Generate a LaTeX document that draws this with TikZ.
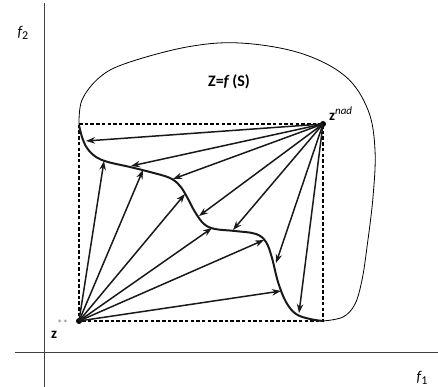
\documentclass[tikz,border=0pt]{standalone}
\usepackage{fontspec}
\setmainfont{Carlito}
\usetikzlibrary{arrows.meta}
\tikzset{
  axis/.style={line width=0.9pt, black!75},
  pareto/.style={line width=2pt, black!90},
  region/.style={line width=0.8pt, black},
  box/.style={line width=1.3pt, dash pattern=on 3.5pt off 2.2pt},
  vec/.style={line width=1.5pt, black!90, -{Stealth[length=9pt,width=6.5pt]}},
  pt/.style={circle, fill=black, inner sep=0pt, minimum size=6pt},
  lbl/.style={inner sep=0pt, font=\fontsize{15}{17}\selectfont}
}
\begin{document}
\begin{tikzpicture}[x=1pt,y=-1pt]
\useasboundingbox (0,0) rectangle (438,387);
% axes
\draw[axis] (44,3) -- (44,387);
\draw[axis] (15,352) -- (438,352);
\node[lbl] (f2) at (23,33) {\itshape f\raisebox{-0.35ex}{\upshape\fontsize{12}{14}\selectfont 2}};
\node[lbl] (f1) at (422,378) {\itshape f\raisebox{-0.35ex}{\upshape\fontsize{12}{14}\selectfont 1}};
% points
\node[pt] (zs) at (79,321) {};
\node[pt] (zn) at (323,124) {};
\coordinate (tl) at (79,124);
\coordinate (br) at (323,321);
% region
\draw[region] plot[smooth, tension=0.6] coordinates {(79,125) (82,100) (100,77) (127,63) (187,47) (240,43) (300,53) (345,76) (368,110) (375,150) (373,197) (367,247) (362,280) (355,304) (343,317) (323,321)};
% dashed box
\draw[box] (tl) -- (zn.center) -- (br) -- (zs.center) -- cycle;
% pareto front
\draw[pareto] plot[smooth, tension=0.6] coordinates {(79,125) (82,137) (87,148) (96,157) (108,162) (130,167) (150,172) (170,178) (180,186) (187,197) (195,212) (204,224) (215,229) (235,231) (256,234) (266,242) (272,258) (278,282) (286,302) (296,314) (310,319) (323,321)};
% targets
\coordinate (a1) at (104,161);
\coordinate (a2) at (143,170);
\coordinate (a3) at (185,194);
\coordinate (a4) at (212,228);
\coordinate (a5) at (264,240);
\coordinate (a6) at (281,291);
\coordinate (b1) at (86,141);
\coordinate (b2) at (131,166);
\coordinate (b3) at (173,179);
\coordinate (b4) at (199,216);
\coordinate (b5) at (233,230);
\coordinate (b6) at (276,263);
\coordinate (b7) at (299,313);
\foreach \t in {a1,a2,a3,a4,a5,a6} \draw[vec] (zs.center) -- (\t);
\foreach \t in {b1,b2,b3,b4,b5,b6,b7} \draw[vec] (zn.center) -- (\t);
% labels
\node[lbl, font=\fontsize{16}{18}\selectfont\bfseries] (Z) at (229,82) {Z=\textit{f}\,(S)};
\node[lbl, anchor=base west] (zn-l) at (329,121) {\textbf{z}\raisebox{0.85ex}{\itshape\fontsize{11}{13}\selectfont nad}};
\node[lbl, anchor=base west] (zs-l) at (51,338) {\textbf{z}\raisebox{1.5ex}{\color{black!50}\fontsize{11}{13}\selectfont **}};
\end{tikzpicture}
\end{document}
